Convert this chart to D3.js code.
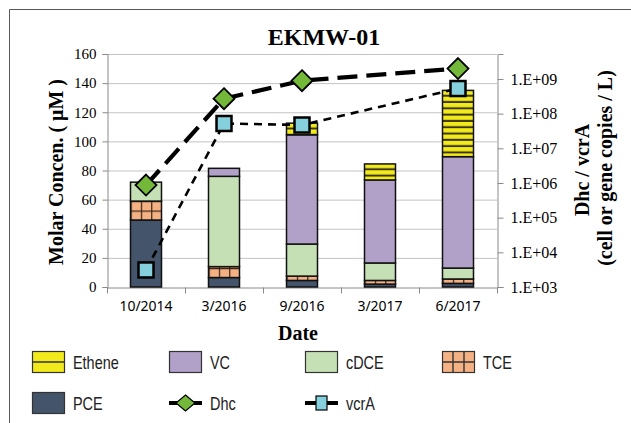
<!DOCTYPE html>
<html>
<head>
<meta charset="utf-8">
<script src="https://cdn.jsdelivr.net/npm/d3@7"></script>
<style>
  body { margin: 0; background: #fff; }
  svg { display: block; }
</style>
</head>
<body>
<svg id="chart" width="631" height="423"></svg>
<script>
// values
const dates  = ["10/2014", "3/2016", "9/2016", "3/2017", "6/2017"];
const pce    = [46, 6.5, 4.5, 2, 2.5];
const tce    = [13, 7.5, 3, 2.5, 3];
const cdce   = [13, 62, 22, 12, 7.5];
const vc     = [0, 5.5, 75, 57, 76.5];
const ethene = [0, 0, 8, 11, 45.5];
const dhc    = [8.7e5, 2.7e8, 8.9e8, null, 2.0e9];
const vcrA   = [3.1e3, 5.2e7, 4.7e7, null, 5.3e8];
const leftTicks  = [0, 20, 40, 60, 80, 100, 120, 140, 160];
const rightTicks = [1e3, 1e4, 1e5, 1e6, 1e7, 1e8, 1e9];

const colors = {
    pce: "#44546A", tce: "#F4B183", cdce: "#C5E0B4", vc: "#B1A0C7", ethene: "#F3EA1C",
    dhc: "#74B83A", vcrA: "#86D0DE"
};

const svg = d3.select("#chart");
const plotLeft = 107, plotRight = 497, plotTop = 54, plotBottom = 287;
const serif = "'Liberation Serif', 'Times New Roman', serif";

// outer frame
svg.append("path")
    .attr("d", "M9.5,423V9.5H631")
    .attr("fill", "none").attr("stroke", "#595959").attr("stroke-width", 1);

const x = d3.scaleBand().domain(dates).range([plotLeft, plotRight]).padding(0);
const barW = 31;
const y = d3.scaleLinear().domain([0, 160]).range([plotBottom, plotTop]);
const yLog = d3.scaleLog().domain([1e3, 5.25e9]).range([plotBottom, plotTop]);

// gridlines
svg.append("g").selectAll("line")
    .data(leftTicks.slice(1))
    .enter().append("line")
    .attr("x1", plotLeft).attr("x2", plotRight)
    .attr("y1", d => y(d) + 0.5).attr("y2", d => y(d) + 0.5)
    .attr("stroke", "#c3c3c3").attr("stroke-width", 1);

// axes
const axisColor = "#8a8a8a";
const gl = svg.append("g").attr("transform", `translate(${plotLeft + 0.5},0)`)
    .call(d3.axisLeft(y).tickValues(leftTicks).tickSize(5).tickPadding(6));
gl.select(".domain").attr("stroke", axisColor);
gl.selectAll(".tick line").attr("stroke", axisColor);
gl.selectAll("text").attr("font-family", serif).attr("font-size", 15).attr("fill", "#000");

const gr = svg.append("g").attr("transform", `translate(${plotRight + 0.5},0)`)
    .call(d3.axisRight(yLog).tickValues(rightTicks).tickSize(6).tickPadding(7)
        .tickFormat(d => "1.E+" + String(Math.round(Math.log10(d))).padStart(2, "0")));
gr.select(".domain").attr("stroke", axisColor);
gr.selectAll(".tick line").attr("stroke", axisColor);
gr.selectAll("text").attr("font-family", serif).attr("font-size", 16).attr("fill", "#000");

const gb = svg.append("g").attr("transform", `translate(0,${plotBottom + 0.5})`)
    .call(d3.axisBottom(x).tickSize(0).tickPadding(14));
gb.select(".domain").attr("stroke", axisColor);
gb.selectAll("text").attr("font-family", "'Noto Sans', sans-serif").attr("font-size", 14).attr("fill", "#000");
// tick marks sit between categories
gb.selectAll(".sep")
    .data(d3.range(dates.length + 1))
    .enter().append("line")
    .attr("x1", i => plotLeft + i * x.step() + 0.5).attr("x2", i => plotLeft + i * x.step() + 0.5)
    .attr("y1", 0).attr("y2", 6)
    .attr("stroke", axisColor);

// patterns
const defs = svg.append("defs");
const rows = dates.map((d, i) => ({ date: d, pce: pce[i], tce: tce[i], cdce: cdce[i], vc: vc[i], ethene: ethene[i] }));
const keys = ["pce", "tce", "cdce", "vc", "ethene"];
const series = d3.stack().keys(keys)(rows);

function barX(d) { return x(d) + (x.bandwidth() - barW) / 2; }

dates.forEach((d, i) => {
    const bx = barX(d);
    const tp = defs.append("pattern").attr("id", "tce-" + i)
        .attr("patternUnits", "userSpaceOnUse")
        .attr("x", bx).attr("y", y(series[1][i][0]))
        .attr("width", barW / 3).attr("height", 9.5);
    tp.append("rect").attr("width", barW / 3).attr("height", 9.5).attr("fill", colors.tce);
    tp.append("line").attr("x1", 0).attr("x2", 0).attr("y1", 0).attr("y2", 9.5)
        .attr("stroke", "#3b2414").attr("stroke-width", 2.4);
    tp.append("line").attr("x1", 0).attr("x2", barW / 3).attr("y1", 0).attr("y2", 0)
        .attr("stroke", "#3b2414").attr("stroke-width", 2.4);

    const ep = defs.append("pattern").attr("id", "eth-" + i)
        .attr("patternUnits", "userSpaceOnUse")
        .attr("x", bx).attr("y", y(series[4][i][1]))
        .attr("width", barW).attr("height", 6.3);
    ep.append("rect").attr("width", barW).attr("height", 6.3).attr("fill", colors.ethene);
    ep.append("rect").attr("y", 4.3).attr("width", barW).attr("height", 2).attr("fill", "#3a3510");
});

// stacked bars
series.forEach(s => {
    svg.append("g").selectAll("rect")
        .data(s.map((v, i) => ({ v, i })).filter(d => d.v[1] - d.v[0] > 0))
        .enter().append("rect")
        .attr("x", d => barX(dates[d.i]))
        .attr("y", d => y(d.v[1]))
        .attr("width", barW)
        .attr("height", d => y(d.v[0]) - y(d.v[1]))
        .attr("fill", d => s.key === "tce" ? `url(#tce-${d.i})` : s.key === "ethene" ? `url(#eth-${d.i})` : colors[s.key])
        .attr("stroke", "#111").attr("stroke-width", 1.5);
});

// Dhc and vcrA lines
const pts = arr => arr.map((v, i) => ({ v, i })).filter(d => d.v != null);
const lineGen = d3.line().x(d => x(dates[d.i]) + x.bandwidth() / 2).y(d => yLog(d.v));

svg.append("path").datum(pts(vcrA)).attr("d", lineGen)
    .attr("fill", "none").attr("stroke", "#000").attr("stroke-width", 2.6)
    .attr("stroke-dasharray", "8,6");
svg.append("path").datum(pts(dhc)).attr("d", lineGen)
    .attr("fill", "none").attr("stroke", "#000").attr("stroke-width", 4.2)
    .attr("stroke-dasharray", "20,9");

svg.append("g").selectAll("rect")
    .data(pts(vcrA)).enter().append("rect")
    .attr("x", d => x(dates[d.i]) + x.bandwidth() / 2 - 7.5)
    .attr("y", d => yLog(d.v) - 7.5)
    .attr("width", 15).attr("height", 15)
    .attr("fill", colors.vcrA).attr("stroke", "#000").attr("stroke-width", 2.5);

svg.append("g").selectAll("path")
    .data(pts(dhc)).enter().append("path")
    .attr("transform", d => `translate(${x(dates[d.i]) + x.bandwidth() / 2},${yLog(d.v)})`)
    .attr("d", "M0,-10.5L10.5,0L0,10.5L-10.5,0Z")
    .attr("fill", colors.dhc).attr("stroke", "#000").attr("stroke-width", 1.8);

// titles
svg.append("text").attr("x", 324).attr("y", 45).attr("text-anchor", "middle")
    .attr("font-family", serif).attr("font-weight", "bold").attr("font-size", 24)
    .text("EKMW-01");
svg.append("text").attr("x", 298).attr("y", 340).attr("text-anchor", "middle")
    .attr("font-family", serif).attr("font-weight", "bold").attr("font-size", 20)
    .text("Date");
svg.append("text").attr("transform", "translate(63,172) rotate(-90)").attr("text-anchor", "middle")
    .attr("font-family", serif).attr("font-weight", "bold").attr("font-size", 20)
    .text("Molar Concen. ( μM )");
svg.append("text").attr("transform", "translate(589,170) rotate(-90)").attr("text-anchor", "middle")
    .attr("font-family", serif).attr("font-weight", "bold").attr("font-size", 20)
    .text("Dhc / vcrA");
svg.append("text").attr("transform", "translate(612,168) rotate(-90)").attr("text-anchor", "middle")
    .attr("font-family", serif).attr("font-weight", "bold").attr("font-size", 20)
    .text("(cell or gene copies / L)");

// legend
const legendNames = ["Ethene", "VC", "cDCE", "TCE", "PCE", "Dhc", "vcrA"];
const legendCols = [32, 169, 305, 442];
const legendRows = [362, 403];
const legendFont = "'Liberation Sans', Arial, sans-serif";
const lg = svg.append("g");
legendNames.forEach((name, k) => {
    const lx = legendCols[k % 4], ly = legendRows[Math.floor(k / 4)];
    const item = lg.append("g").attr("transform", `translate(${lx},${ly})`);
    if (name === "Dhc" || name === "vcrA") {
        item.append("line").attr("x1", 0).attr("x2", 33).attr("y1", 0).attr("y2", 0)
            .attr("stroke", "#000").attr("stroke-width", 4);
        if (name === "Dhc") {
            item.append("path").attr("d", "M16.5,-8L26,0L16.5,8L7,0Z")
                .attr("fill", colors.dhc).attr("stroke", "#000").attr("stroke-width", 1.2);
        } else {
            item.append("rect").attr("x", 11).attr("y", -7).attr("width", 11).attr("height", 14)
                .attr("fill", colors.vcrA).attr("stroke", "#000").attr("stroke-width", 1.2);
        }
    } else {
        const key = name.toLowerCase();
        item.append("rect").attr("x", 0.5).attr("y", -10.5).attr("width", 32).attr("height", 21)
            .attr("fill", colors[key]).attr("stroke", "#333").attr("stroke-width", 1.2);
        if (key === "ethene" || key === "tce") {
            item.append("line").attr("x1", 0.5).attr("x2", 32.5).attr("y1", 0).attr("y2", 0)
                .attr("stroke", "#333").attr("stroke-width", 1.4);
        }
        if (key === "tce") {
            [11, 22].forEach(vx => item.append("line").attr("x1", vx).attr("x2", vx)
                .attr("y1", -10.5).attr("y2", 10.5).attr("stroke", "#333").attr("stroke-width", 1.4));
        }
    }
    // narrow sans look of the original legend
    item.append("text").attr("transform", "translate(41,6.5) scale(0.78,1)")
        .attr("font-family", legendFont).attr("font-size", 18.5).attr("fill", "#222")
        .text(name);
});
</script>
</body>
</html>
